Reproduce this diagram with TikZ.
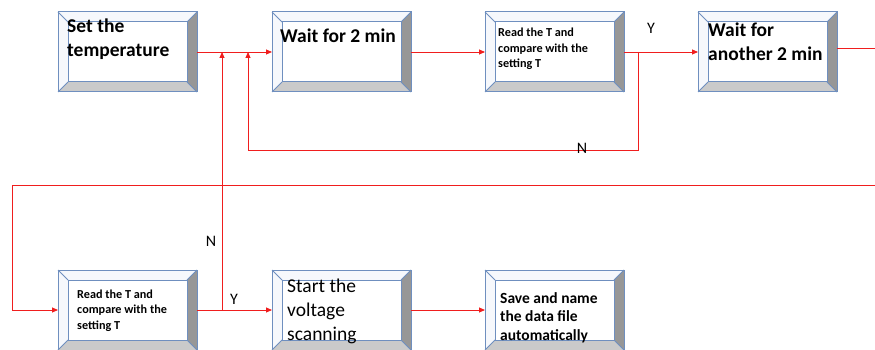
\documentclass[tikz,border=0pt]{standalone}
\usepackage{fontspec}
\setmainfont{Carlito}
\usetikzlibrary{calc,arrows.meta}
\definecolor{bord}{HTML}{6F8FBF}
\definecolor{rgray}{HTML}{979797}
\definecolor{bgray}{HTML}{CACACA}
\definecolor{lite}{HTML}{F6F8FC}
\definecolor{lred}{HTML}{F01E1E}
\tikzset{
  bx/.style={draw=bord, line width=1pt, fill=white, minimum width=138pt, minimum height=79pt, inner sep=0pt, anchor=north west},
  conn/.style={draw=lred, line width=0.9pt},
  arr/.style={conn, -{Triangle[length=6pt,width=5pt]}},
  bigb/.style={font=\bfseries\fontsize{19.5}{24}\selectfont, anchor=base west, inner sep=0pt},
  bigr/.style={font=\fontsize{19.5}{24}\selectfont, anchor=base west, inner sep=0pt},
  smallb/.style={font=\bfseries\fontsize{12.2}{15.5}\selectfont, anchor=base west, inner sep=0pt},
  midb/.style={font=\bfseries\fontsize{15.5}{18.8}\selectfont, anchor=base west, inner sep=0pt},
  lbl/.style={font=\fontsize{16}{19}\selectfont, inner sep=0pt},
}
\newcommand\bevel[1]{%
  \fill[lite] (#1.north west) -- (#1.north east) -- ($(#1.north east)+(-10,10)$) -- ($(#1.north west)+(10,10)$) -- cycle;
  \fill[lite] (#1.north west) -- ($(#1.north west)+(10,10)$) -- ($(#1.south west)+(10,-10)$) -- (#1.south west) -- cycle;
  \fill[rgray] (#1.north east) -- (#1.south east) -- ($(#1.south east)+(-10,-10)$) -- ($(#1.north east)+(-10,10)$) -- cycle;
  \fill[bgray] (#1.south west) -- (#1.south east) -- ($(#1.south east)+(-10,-10)$) -- ($(#1.south west)+(10,-10)$) -- cycle;
  \draw[bord, line width=1pt] (#1.north west) rectangle (#1.south east);
  \draw[bord, line width=1pt] ($(#1.north west)+(10,10)$) rectangle ($(#1.south east)+(-10,-10)$);
  \draw[bord, line width=0.8pt] (#1.north west) -- ++(10,10) (#1.north east) -- ++(-10,10)
     (#1.south west) -- ++(10,-10) (#1.south east) -- ++(-10,-10);
}
\begin{document}
\begin{tikzpicture}[x=1pt,y=-1pt]
\fill[white] (0,0) rectangle (875,350);
\useasboundingbox (0,0) rectangle (875,350);
% boxes
\node[bx] (b1) at (58,12) {};
\node[bx] (b2) at (272,12) {};
\node[bx] (b3) at (485,12) {};
\node[bx] (b4) at (698,12) {};
\node[bx] (b5) at (58,270) {};
\node[bx] (b6) at (272,270) {};
\node[bx] (b7) at (485,270) {};
\bevel{b1}\bevel{b2}\bevel{b3}\bevel{b4}\bevel{b5}\bevel{b6}\bevel{b7}
% texts
\node[bigb] (t1) at (67,33) {\parbox[t]{130pt}{Set the\\temperature}};
\node[bigb] (t2) at (280,43) {Wait for 2 min};
\node[smallb] (t3) at (498,37) {\parbox[t]{120pt}{Read the T and\\compare with the\\setting T}};
\node[bigb] (t4) at (708,37) {\parbox[t]{130pt}{Wait for\\another 2 min}};
\node[smallb] (t5) at (77,298) {\parbox[t]{120pt}{Read the T and\\compare with the\\setting T}};
\node[bigr] (t6) at (287,292) {\parbox[t]{120pt}{Start the\\voltage\\scanning}};
\node[midb] (t7) at (500,303) {\parbox[t]{120pt}{Save and name\\the data file\\automatically}};
% coordinates
\coordinate (nb) at (638,150);
\coordinate (na) at (248,150);
\coordinate (jx) at (222,0);
\coordinate (o1) at (885,48);
\coordinate (o2) at (885,185);
\coordinate (l1) at (12,185);
% connectors
\draw[arr] (b1.east) -- (b2.west);
\draw[arr] (b2.east) -- (b3.west);
\draw[arr] (b3.east) -- (b4.west);
\draw[arr] (b3.east -| nb) -- (nb) -- (na) -- (na |- b1.east);
\draw[arr] (b4.east |- o1) -- (o1) -- (o2) -- (l1) |- (b5.west);
\draw[arr] (b5.east) -- (b6.west);
\draw[arr] (b5.east -| jx) -- (jx |- b1.east);
\draw[arr] (b6.east) -- (b7.west);
% labels
\node[lbl] (y1) at (651,28) {Y};
\node[lbl] (n1) at (582,148) {N};
\node[lbl] (n2) at (211,241) {N};
\node[lbl] (y2) at (234,299) {Y};
\end{tikzpicture}
\end{document}
